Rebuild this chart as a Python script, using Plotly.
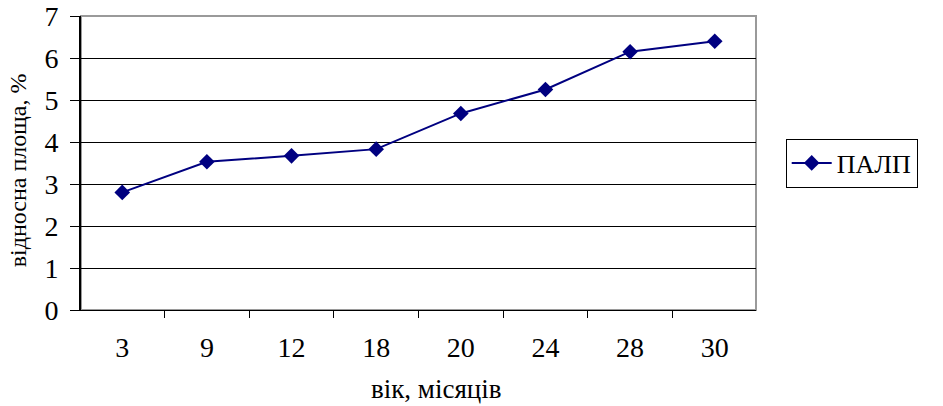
import plotly.graph_objects as go

# Age groups (months) and relative area values (%)
ages = ["3", "9", "12", "18", "20", "24", "28", "30"]
palp = [2.80, 3.53, 3.67, 3.83, 4.68, 5.25, 6.15, 6.40]
series_name = "ПАЛП"
y_ticks = [0, 1, 2, 3, 4, 5, 6, 7]
x_title = "вік, місяців"
y_title = "відносна площа, %"

FONT = "Liberation Serif"
NAVY = "#000080"

fig = go.Figure()
fig.add_trace(go.Scatter(
    x=ages, y=palp, name=series_name, mode="lines+markers",
    line=dict(color=NAVY, width=2),
    marker=dict(symbol="diamond", size=12, color=NAVY),
))

# Gray frame around the plotting area
fig.add_shape(type="rect", xref="paper", yref="paper", x0=0, y0=0, x1=1, y1=1,
              line=dict(color="#9a9a9a", width=2), layer="below")

# Axis titles placed as free annotations
fig.add_annotation(text=x_title, xref="paper", yref="paper", x=0.527, y=-0.268,
                   xanchor="center", yanchor="middle", showarrow=False,
                   font=dict(family=FONT, size=27, color="black"))
fig.add_annotation(text=y_title, xref="paper", yref="paper", x=-0.093, y=0.476,
                   xanchor="center", yanchor="middle", showarrow=False, textangle=-90,
                   font=dict(family=FONT, size=24, color="black"))

fig.update_layout(
    width=943, height=406,
    margin=dict(l=81, r=187, t=16, b=96, autoexpand=False),
    paper_bgcolor="white", plot_bgcolor="white",
    font=dict(family=FONT, size=27, color="black"),
    showlegend=True,
    legend=dict(x=1.044, y=0.5, xanchor="left", yanchor="middle",
                bordercolor="black", borderwidth=1,
                font=dict(family=FONT, size=26), itemwidth=40),
    xaxis=dict(
        type="category", tickson="boundaries", ticks="outside", ticklen=7,
        tickcolor="black", showline=True, linecolor="black", linewidth=1,
        showgrid=False, tickfont=dict(family=FONT, size=28), ticklabelstandoff=12,
        automargin=False,
    ),
    yaxis=dict(
        range=[0, 7], tickvals=y_ticks, ticks="outside", ticklen=9,
        tickcolor="black", showline=True, linecolor="black", linewidth=2,
        showgrid=True, gridcolor="black", gridwidth=1, zeroline=False,
        tickfont=dict(family=FONT, size=28), ticklabelstandoff=6,
        automargin=False,
    ),
)

fig.write_html("out.html")
